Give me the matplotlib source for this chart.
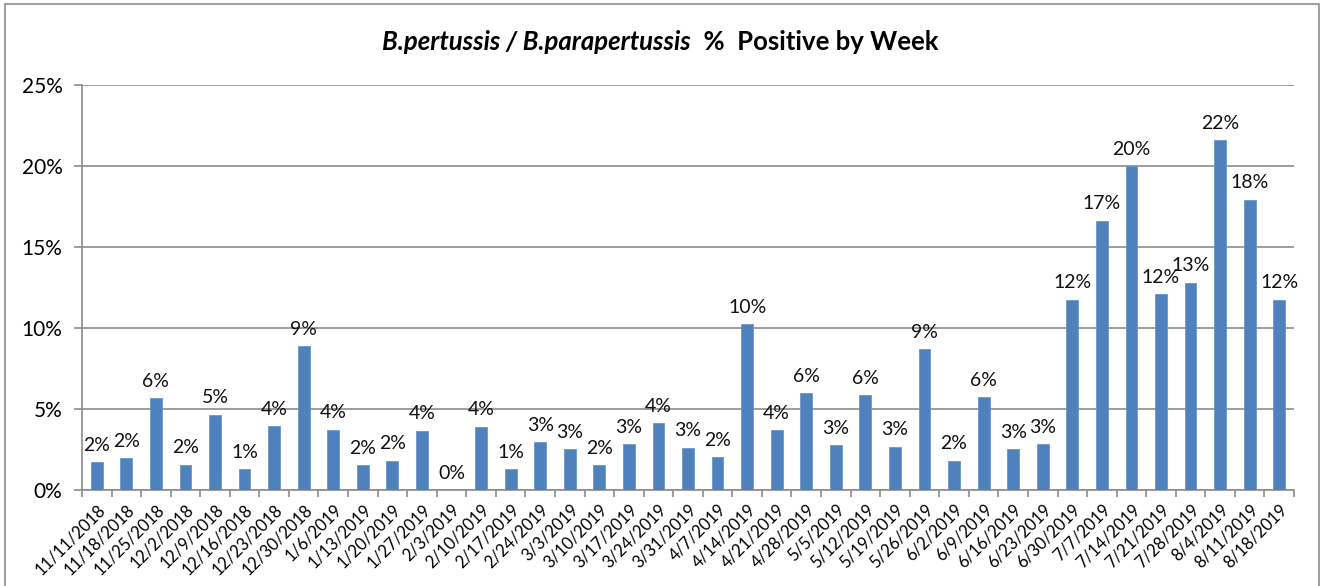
import matplotlib
matplotlib.use("Agg")
import matplotlib.pyplot as plt
from matplotlib.patches import Rectangle
from matplotlib.ticker import FuncFormatter, MultipleLocator

weeks = ["11/11/2018", "11/18/2018", "11/25/2018", "12/2/2018", "12/9/2018", "12/16/2018",
         "12/23/2018", "12/30/2018", "1/6/2019", "1/13/2019", "1/20/2019", "1/27/2019",
         "2/3/2019", "2/10/2019", "2/17/2019", "2/24/2019", "3/3/2019", "3/10/2019",
         "3/17/2019", "3/24/2019", "3/31/2019", "4/7/2019", "4/14/2019", "4/21/2019",
         "4/28/2019", "5/5/2019", "5/12/2019", "5/19/2019", "5/26/2019", "6/2/2019",
         "6/9/2019", "6/16/2019", "6/23/2019", "6/30/2019", "7/7/2019", "7/14/2019",
         "7/21/2019", "7/28/2019", "8/4/2019", "8/11/2019", "8/18/2019"]
pct_positive = [1.71, 1.98, 5.67, 1.57, 4.64, 1.28,
                3.92, 8.86, 3.73, 1.52, 1.81, 3.67,
                0.0, 3.90, 1.30, 2.95, 2.52, 1.52,
                2.82, 4.14, 2.62, 2.02, 10.22, 3.69,
                5.98, 2.78, 5.85, 2.68, 8.68, 1.81,
                5.71, 2.54, 2.82, 11.75, 16.63, 19.99,
                12.08, 12.80, 21.60, 17.93, 11.75]
point_labels = ["2%", "2%", "6%", "2%", "5%", "1%", "4%", "9%", "4%", "2%", "2%", "4%",
                "0%", "4%", "1%", "3%", "3%", "2%", "3%", "4%", "3%", "2%", "10%", "4%",
                "6%", "3%", "6%", "3%", "9%", "2%", "6%", "3%", "3%", "12%", "17%", "20%",
                "12%", "13%", "22%", "18%", "12%"]

W, H, DPI = 1320, 586, 100
fig = plt.figure(figsize=(W / DPI, H / DPI), dpi=DPI)
plt.rcParams['font.family'] = ['Lato', 'DejaVu Sans']

# outer chart frame
fig.patches.append(Rectangle((5 / W, -0.01), (1319 - 5) / W, 1 - 4 / H + 0.01,
                             transform=fig.transFigure, fill=False,
                             edgecolor='#a0a0a0', linewidth=1.5))

left, right, top, bottom = 82, 1294, 85, 490
ax = fig.add_axes([left / W, 1 - bottom / H, (right - left) / W, (bottom - top) / H])

x = list(range(len(weeks)))
bars = ax.bar(x, pct_positive, width=0.40, color='#4F81BD', edgecolor='#6b96cc',
              linewidth=0.6, zorder=3)

for xi, v, lab in zip(x, pct_positive, point_labels):
    ax.annotate(lab, (xi, v), xytext=(0, 6), textcoords='offset points',
                ha='center', va='bottom', fontsize=14, color='#111111', zorder=4)

ax.set_xlim(-0.5, len(weeks) - 0.5)
ax.set_ylim(0, 25)
ax.yaxis.set_major_locator(MultipleLocator(5))
ax.yaxis.set_major_formatter(FuncFormatter(lambda v, p: f"{v:.0f}%"))
ax.grid(axis='y', color='#8c8c8c', linewidth=1.2, zorder=0)
ax.set_axisbelow(True)

for s in ['top', 'right']:
    ax.spines[s].set_visible(False)
for s in ['left', 'bottom']:
    ax.spines[s].set_color('#8c8c8c')
    ax.spines[s].set_linewidth(1.2)

ax.set_xticks([i - 0.5 for i in range(len(weeks) + 1)], minor=False)
ax.set_xticklabels([])
ax.set_xticks(x, minor=True)
ax.set_xticklabels(weeks, minor=True, rotation=45, ha='right', rotation_mode='anchor',
                   fontsize=12)
ax.tick_params(axis='x', which='major', length=5, color='#8c8c8c', width=1.2)
ax.tick_params(axis='x', which='minor', length=0, pad=8)
ax.tick_params(axis='y', length=6, color='#8c8c8c', width=1.2, labelsize=15, pad=8)

title_left = fig.text(0, 0, "B.pertussis / B.parapertussis", fontsize=18.5,
                      fontweight='bold', fontstyle='italic', va='center')
title_right = fig.text(0, 0, "  %  Positive by Week", fontsize=18.5,
                       fontweight='bold', va='center')
fig.canvas.draw()
r = fig.canvas.get_renderer()
w1 = title_left.get_window_extent(r).width
w2 = title_right.get_window_extent(r).width
start = (W / 2 - (w1 + w2) / 2)
yt = 1 - 42 / H
title_left.set_position((start / W, yt))
title_right.set_position(((start + w1) / W, yt))

fig.savefig("out.png", dpi=DPI, facecolor='white')
